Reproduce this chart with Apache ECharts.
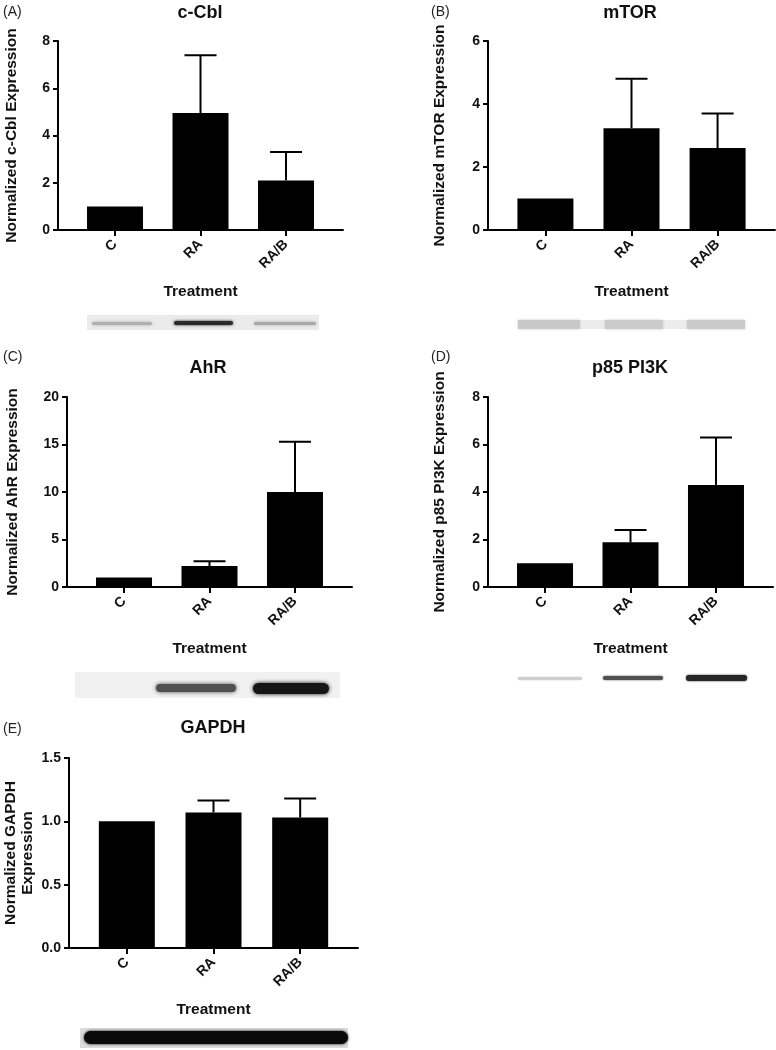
<!DOCTYPE html>
<html>
<head>
<meta charset="utf-8">
<script src="https://cdn.jsdelivr.net/npm/echarts@6/dist/echarts.min.js"></script>
<style>html,body{margin:0;padding:0;background:#fff}#c{width:776px;height:1050px}</style>
</head>
<body>
<div id="c"></div>
<script>
// ---- data ----
const categories = ['C', 'RA', 'RA/B'];
const cCblMean = [1.0, 4.95, 2.1];
const cCblUpper = [null, 7.4, 3.3];
const mtorMean = [1.0, 3.23, 2.6];
const mtorUpper = [null, 4.8, 3.7];
const ahrMean = [1.0, 2.2, 10.0];
const ahrUpper = [null, 2.7, 15.3];
const p85Mean = [1.0, 1.88, 4.3];
const p85Upper = [null, 2.4, 6.3];
const gapdhMean = [1.0, 1.07, 1.03];
const gapdhUpper = [null, 1.165, 1.18];
const cCblTicks = [0, 2, 4, 6, 8];
const mtorTicks = [0, 2, 4, 6];
const ahrTicks = [0, 5, 10, 15, 20];
const p85Ticks = [0, 2, 4, 6, 8];
const gapdhTicks = [0, 0.5, 1.0, 1.5];

const FONT = "'Liberation Sans', Arial, sans-serif";

const panels = [
  {title: 'c-Cbl', label: '(A)', yName: 'Normalized c-Cbl Expression', mean: cCblMean, upper: cCblUpper, ticks: cCblTicks,
   grid: {left: 58, top: 41, width: 285, height: 189}, nameGap: 38, dec: 0,
   titlePos: [200, 13], labelPos: [3, 12]},
  {title: 'mTOR', label: '(B)', yName: 'Normalized mTOR Expression', mean: mtorMean, upper: mtorUpper, ticks: mtorTicks,
   grid: {left: 488, top: 41, width: 287, height: 189}, nameGap: 40, dec: 0,
   titlePos: [630, 13], labelPos: [431, 12]},
  {title: 'AhR', label: '(C)', yName: 'Normalized AhR Expression', mean: ahrMean, upper: ahrUpper, ticks: ahrTicks,
   grid: {left: 67, top: 397, width: 285, height: 190}, nameGap: 46, dec: 0,
   titlePos: [208, 368], labelPos: [3, 357]},
  {title: 'p85 PI3K', label: '(D)', yName: 'Normalized p85 PI3K Expression', mean: p85Mean, upper: p85Upper, ticks: p85Ticks,
   grid: {left: 488, top: 397, width: 285, height: 190}, nameGap: 40, dec: 0,
   titlePos: [630, 368], labelPos: [431, 357]},
  {title: 'GAPDH', label: '(E)', yName: 'Normalized GAPDH\nExpression', mean: gapdhMean, upper: gapdhUpper, ticks: gapdhTicks,
   grid: {left: 69, top: 758, width: 289, height: 190}, nameGap: 33, dec: 1,
   titlePos: [213, 728], labelPos: [3, 729]}
];

const grids = [], xAxes = [], yAxes = [], series = [], graphics = [];

panels.forEach((p, i) => {
  grids.push(Object.assign({containLabel: false}, p.grid));
  xAxes.push({
    type: 'value', gridIndex: i, min: -0.667, max: 2.667,
    splitLine: {show: false},
    axisLine: {show: true, onZero: false, lineStyle: {color: '#000', width: 2}},
    axisTick: {show: true, length: 6, customValues: [0, 1, 2], lineStyle: {color: '#000', width: 2}},
    axisLabel: {customValues: [0, 1, 2], rotate: 45, margin: 12, color: '#111', fontFamily: FONT, fontWeight: 'bold', fontSize: 14,
      formatter: v => categories[Math.round(v)] || ''},
    name: 'Treatment', nameLocation: 'middle', nameGap: 54,
    nameTextStyle: {color: '#111', fontFamily: FONT, fontWeight: 'bold', fontSize: 15.5}
  });
  const t = p.ticks;
  yAxes.push({
    type: 'value', gridIndex: i, min: t[0], max: t[t.length - 1], interval: t[1] - t[0],
    splitLine: {show: false},
    axisLine: {show: true, onZero: false, lineStyle: {color: '#000', width: 2}},
    axisTick: {show: true, length: 5, lineStyle: {color: '#000', width: 2}},
    axisLabel: {margin: 8, color: '#111', fontFamily: FONT, fontWeight: 'bold', fontSize: 14,
      formatter: v => v.toFixed(p.dec)},
    name: p.yName, nameLocation: 'middle', nameGap: p.nameGap,
    nameTextStyle: {color: '#111', fontFamily: FONT, fontWeight: 'bold', fontSize: 15.5, lineHeight: 17}
  });
  series.push({
    type: 'bar', xAxisIndex: i, yAxisIndex: i, barWidth: 56,
    itemStyle: {color: '#000'},
    data: p.mean.map((v, k) => [k, v]), z: 2
  });
  series.push({
    type: 'custom', xAxisIndex: i, yAxisIndex: i, z: 3,
    encode: {x: 0, y: [1, 2]},
    data: p.upper.map((u, k) => [k, p.mean[k], u]).filter(d => d[2] != null),
    renderItem: function (params, api) {
      const x = api.value(0);
      const p0 = api.coord([x, api.value(1)]);
      const p1 = api.coord([x, api.value(2)]);
      const st = {stroke: '#000', lineWidth: 2};
      return {type: 'group', children: [
        {type: 'line', shape: {x1: p0[0], y1: p0[1], x2: p1[0], y2: p1[1]}, style: st},
        {type: 'line', shape: {x1: p1[0] - 16, y1: p1[1], x2: p1[0] + 16, y2: p1[1]}, style: st}
      ]};
    }
  });
  graphics.push({type: 'text', x: p.titlePos[0], y: p.titlePos[1],
    style: {text: p.title, fill: '#111', font: 'bold 18px ' + FONT, textAlign: 'center', textVerticalAlign: 'middle'}});
  graphics.push({type: 'text', x: p.labelPos[0], y: p.labelPos[1],
    style: {text: p.label, fill: '#222', font: '14px ' + FONT, textAlign: 'left', textVerticalAlign: 'middle'}});
});

// western-blot strips (decorative image stand-ins)
function band(x, y, w, h, color, blur, r) {
  return {type: 'rect', shape: {x: x, y: y, width: w, height: h, r: r == null ? h / 2 : r},
    style: {fill: color, shadowBlur: blur, shadowColor: color}};
}
function bgRect(x, y, w, h, color) {
  return {type: 'rect', shape: {x: x, y: y, width: w, height: h}, style: {fill: color}};
}
// A
graphics.push(bgRect(87, 315, 232, 15, '#ebebeb'));
graphics.push(band(92, 322, 60, 3, '#b0b0b0', 3));
graphics.push(band(174, 321, 59, 4, '#2a2a2a', 3));
graphics.push(band(254, 322, 62, 3, '#a8a8a8', 3));
// B
graphics.push(bgRect(518, 320, 227, 9, '#ececec'));
graphics.push(band(518, 320, 62, 9, '#c8c8c8', 3, 1));
graphics.push(band(605, 320, 58, 9, '#cbcbcb', 3, 1));
graphics.push(band(687, 320, 58, 9, '#c9c9c9', 3, 1));
// C
graphics.push(bgRect(75, 672, 265, 26, '#f1f1f1'));
graphics.push(band(156, 684, 80, 8, '#505050', 4));
graphics.push(band(253, 683, 76, 11, '#151515', 4));
// D
graphics.push(band(518, 677, 64, 3, '#cfcfcf', 2));
graphics.push(band(603, 676, 60, 4, '#505050', 2));
graphics.push(band(686, 675, 61, 6, '#262626', 2));
// E
graphics.push(bgRect(80, 1028, 268, 20, '#dcdcdc'));
graphics.push(band(84, 1031, 264, 13, '#0a0a0a', 3));

const chart = echarts.init(document.getElementById('c'), null, {renderer: 'canvas'});
chart.setOption({
  animation: false,
  backgroundColor: '#fff',
  grid: grids, xAxis: xAxes, yAxis: yAxes, series: series,
  graphic: graphics
});
</script>
</body>
</html>
